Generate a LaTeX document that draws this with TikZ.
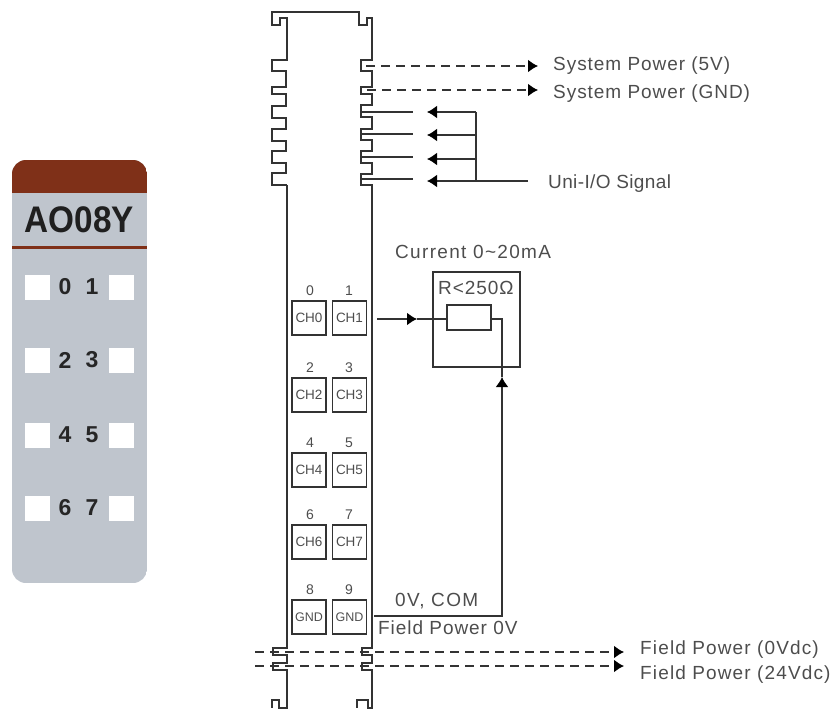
\documentclass[tikz,border=0pt]{standalone}
\usepackage{fontspec}
\setmainfont{Liberation Sans}
\newfontfamily\lab[LetterSpace=5]{Liberation Sans}
\newfontfamily\labb[LetterSpace=2]{Liberation Sans}
\newfontfamily\labc[LetterSpace=7]{Liberation Sans}
\newfontfamily\labd[LetterSpace=6]{Liberation Sans}
\usetikzlibrary{arrows.meta}
\definecolor{ink}{HTML}{333333}
\definecolor{txt}{HTML}{4D4D4D}
\definecolor{brownbar}{HTML}{7F3018}
\definecolor{panel}{HTML}{BFC5CD}
\tikzset{
  wire/.style={draw=ink,line width=1.7pt},
  hd/.style={-{Latex[length=10pt,width=13pt,black]}},
  dsh/.style={wire,dash pattern=on 9pt off 6pt},
  label/.style={anchor=mid west,inner sep=0pt,text=txt,font=\lab\fontsize{19}{19}\selectfont},
  chbox/.style={draw=ink,line width=1.8pt,minimum width=34pt,minimum height=34pt,inner sep=0pt,text=txt,font=\fontsize{13.5}{14}\selectfont},
  chnum/.style={inner sep=0pt,text=txt,font=\fontsize{14}{14}\selectfont},
  led/.style={fill=white,minimum width=25pt,minimum height=25pt,inner sep=0pt},
  dig/.style={inner sep=0pt,text=black!85,font=\bfseries\fontsize{23}{23}\selectfont},
}
\begin{document}
\begin{tikzpicture}[x=1pt,y=-1pt]
\useasboundingbox (0,0) rectangle (833,710);
% --- left panel
\begin{scope}
\clip[rounded corners=14pt] (12,160) rectangle (147,583);
\fill[panel] (12,160) rectangle (147,583);
\fill[brownbar] (12,160) rectangle (147,193);
\fill[brownbar] (12,245.5) rectangle (147,248.5);
\end{scope}
\node[inner sep=0pt,xscale=.9,text=black!88,font=\bfseries\fontsize{37}{37}\selectfont] (title) at (79.5,220) {AO08Y};
\foreach \r/\yy/\a/\b in {a/287/0/1,b/360/2/3,c/435/4/5,d/508/6/7}{
  \node[led] (l\r) at (37,\yy) {};
  \node[led] (r\r) at (121.5,\yy) {};
  \node[dig] (dl\r) at (65,\yy) {\a};
  \node[dig] (dr\r) at (92,\yy) {\b};
}
% --- module outline
\draw[ink,line width=1.9pt] (287,185) -- (272,185) -- (272,173) -- (286,173) -- (286,163) -- (272,163) -- (272,151) -- (286,151) -- (286,141) -- (272,141) -- (272,129) -- (286,129) -- (286,118) -- (272,118) -- (272,106) -- (286,106) -- (286,94) -- (272,94) -- (272,87) -- (286,87) -- (286,71) -- (272,71) -- (272,60) -- (287,60) -- (287,18) -- (280,18) -- (280,25) -- (272,25) -- (272,12) -- (359,12) -- (359,25) -- (367,25) -- (367,18) -- (372,18) -- (372,60) -- (361,60) -- (361,71) -- (372,71) -- (372,87) -- (361,87) -- (361,94) -- (372,94) -- (372,105) -- (361,105) -- (361,117) -- (372,117) -- (372,129) -- (361,129) -- (361,140) -- (372,140) -- (372,151) -- (361,151) -- (361,163) -- (372,163) -- (372,174) -- (361,174) -- (361,185) -- (372,185) -- (372,648) -- (362,648) -- (362,655) -- (372,655) -- (372,663) -- (362,663) -- (362,670) -- (372,670) -- (372,708) -- (368,708) -- (368,700) -- (357,700) -- (357,708);
\draw[ink,line width=1.9pt] (287,185) -- (287,648) -- (273,648) -- (273,655) -- (287,655) -- (287,663) -- (273,663) -- (273,670) -- (287,670) -- (287,708) -- (279,708) -- (279,700) -- (272,700) -- (272,708);
% --- channel boxes
\foreach \n/\yy/\na/\nb/\ta/\tb in {0/318/0/1/CH0/CH1,2/395/2/3/CH2/CH3,4/470/4/5/CH4/CH5,6/542/6/7/CH6/CH7}{
  \node[chbox] (bl\n) at (309,\yy) {\ta};
  \node[chbox] (br\n) at (349.5,\yy) {\tb};
  \node[chnum] (nl\n) at (310,\yy-27) {\na};
  \node[chnum] (nr\n) at (349,\yy-27) {\nb};
}
\node[chbox,font=\fontsize{12.5}{13}\selectfont] (bl8) at (309,617) {GND};
\node[chbox,font=\fontsize{12.5}{13}\selectfont] (br8) at (349.5,617) {GND};
\node[chnum] (nl8) at (310,590) {8};
\node[chnum] (nr8) at (349,590) {9};
% --- labels
\node[label] (s5) at (553,68) {System Power (5V)};
\node[label] (sg) at (553,96) {System Power (GND)};
\node[label,font=\labb\fontsize{19}{19}\selectfont] (uni) at (548,186) {Uni-I/O Signal};
\node[label,font=\labc\fontsize{19}{19}\selectfont] (cur) at (395,256) {Current 0\textasciitilde20mA};
\node[label] (rl) at (438,292) {R<250Ω};
\node[label,font=\labc\fontsize{19}{19}\selectfont] (ov) at (395,604) {0V, COM};
\node[label] (fp) at (378,632) {Field Power 0V};
\node[label,font=\labd\fontsize{19}{19}\selectfont] (f0) at (640,652) {Field Power (0Vdc)};
\node[label,font=\labd\fontsize{19}{19}\selectfont] (f24) at (640,677) {Field Power (24Vdc)};
% --- load box and resistor
\node[draw=ink,line width=1.8pt,minimum width=87pt,minimum height=95pt,inner sep=0pt] (load) at (476.5,319.5) {};
\node[draw=ink,line width=1.8pt,fill=white,minimum width=44pt,minimum height=25pt,inner sep=0pt] (res) at (469,317.5) {};
% --- connectors
\coordinate (p5a) at (366,66); \coordinate (p5b) at (538,66);
\coordinate (pga) at (367,90); \coordinate (pgb) at (538,90);
\draw[dsh,hd] (p5a) -- (p5b);
\draw[dsh,hd] (pga) -- (pgb);
\foreach \i/\ya/\yb in {1/112/112,2/134/135,3/157/159,4/179/181}{
  \coordinate (st\i) at (362,\ya); \coordinate (se\i) at (413,\ya);
  \coordinate (tip\i) at (427,\yb); \coordinate (bus\i) at (476,\yb);
  \draw[wire] (st\i) -- (se\i);
  \draw[wire,hd] (bus\i) -- (tip\i);
}
\draw[wire] (bus1) -- (bus4);
\coordinate (sigend) at (528,181);
\draw[wire] (sigend) -- (bus4);
\coordinate (c1) at (377,319); \coordinate (c1t) at (417,319);
\draw[wire,hd] (c1) -- (c1t);
\draw[wire] (c1t) -- (c1 -| res.west);
\coordinate (elb) at (502,319);
\coordinate (upt) at (502,377);
\coordinate (cor) at (502,616);
\coordinate (gnd) at (374,616);
\draw[wire] (c1 -| res.east) -- (elb) -- (elb |- load.south);
\draw[wire,hd] (gnd) -- (cor) -- (upt);
\draw[wire] (upt) -- (upt |- load.south);
\coordinate (fa) at (255,652); \coordinate (fb) at (624,652);
\coordinate (ga) at (255,666); \coordinate (gb) at (624,666);
\draw[dsh,hd] (fa) -- (fb);
\draw[dsh,hd] (ga) -- (gb);
\end{tikzpicture}
\end{document}
